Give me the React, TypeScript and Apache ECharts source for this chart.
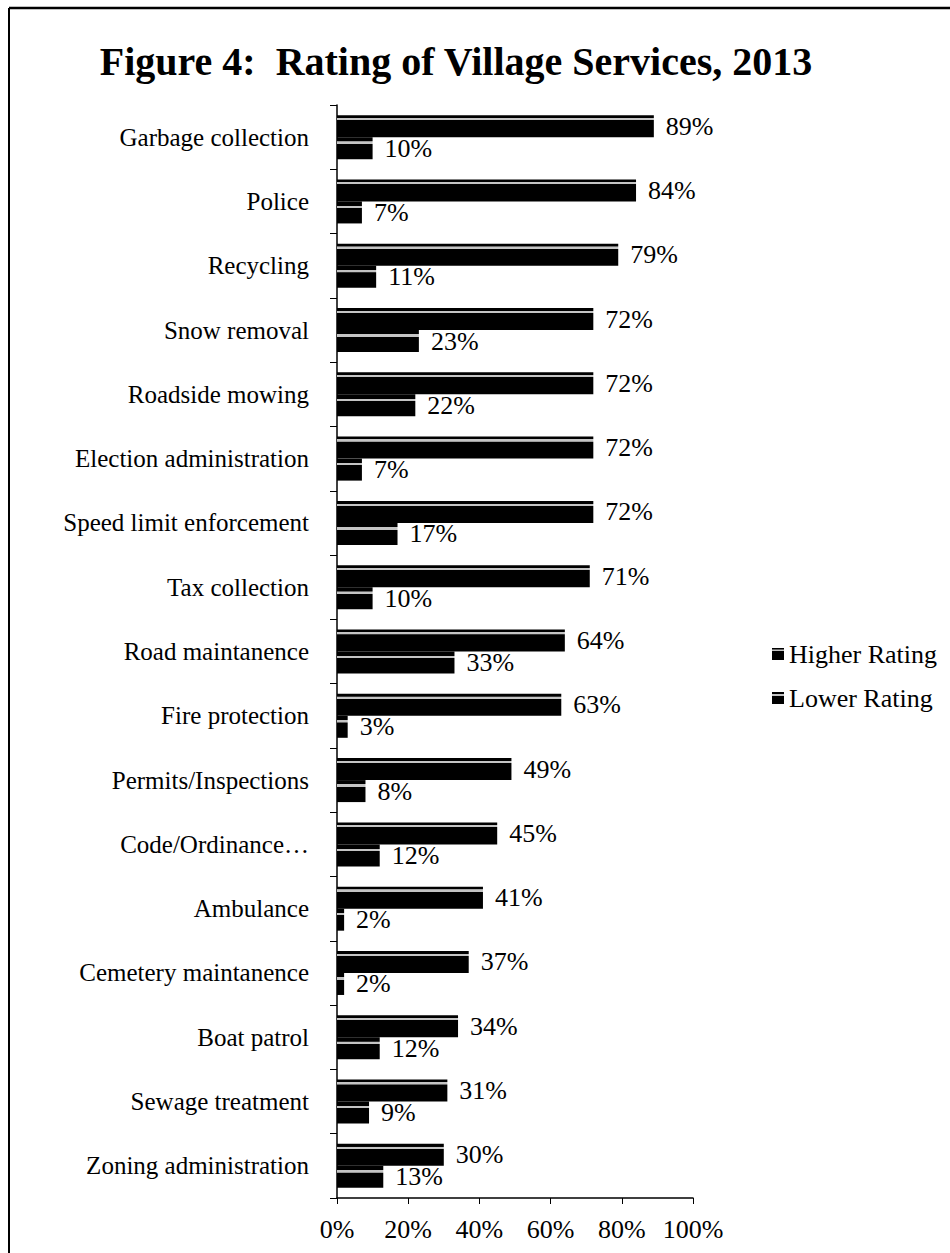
import React, { useEffect, useRef } from "react";
import * as echarts from "echarts";

const categories = [
  "Garbage collection",
  "Police",
  "Recycling",
  "Snow removal",
  "Roadside mowing",
  "Election administration",
  "Speed limit enforcement",
  "Tax collection",
  "Road maintanence",
  "Fire protection",
  "Permits/Inspections",
  "Code/Ordinance…",
  "Ambulance",
  "Cemetery maintanence",
  "Boat patrol",
  "Sewage treatment",
  "Zoning administration",
];

const higherRating = [89, 84, 79, 72, 72, 72, 72, 71, 64, 63, 49, 45, 41, 37, 34, 31, 30];
const lowerRating = [10, 7, 11, 23, 22, 7, 17, 10, 33, 3, 8, 12, 2, 2, 12, 9, 13];

const xTicks = [0, 20, 40, 60, 80, 100];

const FONT = "'Liberation Serif', 'Times New Roman', serif";

// black bar with a pale bevel stripe near its top edge
const bevelFill = (stripeTop: number, stripeBottom: number) =>
  new echarts.graphic.LinearGradient(0, 0, 0, 1, [
    { offset: 0, color: "#000" },
    { offset: stripeTop - 0.01, color: "#000" },
    { offset: stripeTop, color: "#c4c4c4" },
    { offset: stripeBottom, color: "#c4c4c4" },
    { offset: stripeBottom + 0.01, color: "#000" },
    { offset: 1, color: "#000" },
  ]);

export default function App() {
  const ref = useRef<HTMLDivElement>(null);

  useEffect(() => {
    document.body.style.margin = "0";
    if (!ref.current) return;
    const chart = echarts.init(ref.current, null, { renderer: "svg" });

    const labelStyle = {
      show: true,
      position: "right" as const,
      distance: 12,
      fontFamily: FONT,
      fontSize: 26,
      color: "#000",
      formatter: (p: any) => `${p.value}%`,
    };

    chart.setOption({
      animation: false,
      backgroundColor: "#fff",
      textStyle: { fontFamily: FONT },
      title: {
        text: "Figure 4:  Rating of Village Services, 2013",
        left: 451,
        textAlign: "center",
        top: 36,
        textStyle: {
          fontFamily: FONT,
          fontWeight: "bold",
          fontSize: 40,
          color: "#000",
        },
      },
      legend: {
        orient: "vertical",
        left: 767,
        top: 636,
        itemWidth: 12,
        itemHeight: 12,
        itemGap: 18,
        icon: "rect",
        textStyle: { fontFamily: FONT, fontSize: 26, color: "#000" },
        data: ["Higher Rating", "Lower Rating"],
      },
      grid: { left: 337, right: 257, top: 105, bottom: 55, containLabel: false },
      xAxis: {
        type: "value",
        min: 0,
        max: 100,
        interval: 20,
        axisLine: { show: true, lineStyle: { color: "#000", width: 1.5 } },
        axisTick: { show: true, length: 6, lineStyle: { color: "#000" } },
        splitLine: { show: false },
        axisLabel: {
          margin: 18,
          fontFamily: FONT,
          fontSize: 26,
          color: "#000",
          formatter: (v: number) => (xTicks.includes(v) ? `${v}%` : ""),
        },
      },
      yAxis: {
        type: "category",
        inverse: true,
        data: categories,
        axisLine: { show: true, lineStyle: { color: "#000", width: 1.5 } },
        axisTick: { show: true, length: 7, lineStyle: { color: "#000" } },
        axisLabel: {
          margin: 28,
          fontFamily: FONT,
          fontSize: 25,
          color: "#000",
        },
      },
      series: [
        {
          name: "Higher Rating",
          type: "bar",
          data: higherRating,
          barWidth: 22,
          barGap: "0%",
          itemStyle: { color: bevelFill(0.13, 0.22) },
          label: labelStyle,
        },
        {
          name: "Lower Rating",
          type: "bar",
          data: lowerRating,
          barWidth: 22,
          barGap: "0%",
          itemStyle: { color: bevelFill(0.2, 0.3) },
          label: labelStyle,
        },
      ],
      graphic: [
        {
          type: "line",
          shape: { x1: 9, y1: 8, x2: 950, y2: 8 },
          style: { stroke: "#000", lineWidth: 2.5 },
        },
        {
          type: "line",
          shape: { x1: 9, y1: 8, x2: 9, y2: 1253 },
          style: { stroke: "#000", lineWidth: 2 },
        },
      ],
    });

    return () => chart.dispose();
  }, []);

  return <div ref={ref} style={{ width: 950, height: 1253 }} />;
}
